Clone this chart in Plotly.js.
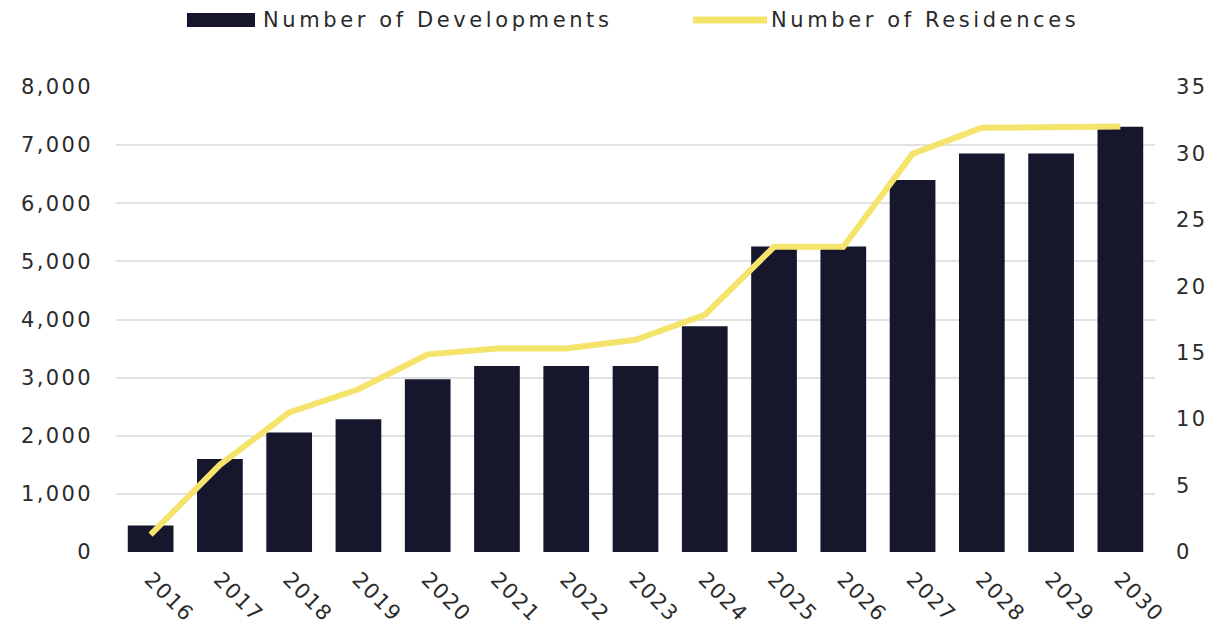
<!DOCTYPE html>
<html>
<head>
<meta charset="utf-8">
<script src="https://cdn.plot.ly/plotly-3.0.1.min.js"></script>
<style>
  html, body { margin: 0; padding: 0; background: #fff; }
  #chart { width: 1230px; height: 630px; }
  .ytick text, .y2tick text { letter-spacing: 2.4px; }
  .xtick text { letter-spacing: 1.5px; }
  .annotation-text { letter-spacing: 3.6px; }
</style>
</head>
<body>
<div id="chart"></div>
<script>
const years = ['2016','2017','2018','2019','2020','2021','2022','2023','2024','2025','2026','2027','2028','2029','2030'];
const developments = [2, 7, 9, 10, 13, 14, 14, 14, 17, 23, 23, 28, 30, 30, 32];
const residences = [300, 1500, 2400, 2800, 3400, 3500, 3500, 3650, 4080, 5250, 5250, 6850, 7300, 7300, 7320];
const devName = 'Number of Developments';
const resName = 'Number of Residences';

const FONT = 'DejaVu Sans, sans-serif';
const TXT = '#2b2b2b';
const BAR = '#16172d';
const LINE = '#f5e46b';

const traces = [
  { type: 'bar', name: devName, x: years, y: developments, yaxis: 'y',
    marker: { color: BAR }, showlegend: false, hoverinfo: 'x+y+name' },
  { type: 'scatter', mode: 'lines', name: resName, x: years, y: residences, yaxis: 'y2',
    line: { color: LINE, width: 6 }, showlegend: false }
];

const layout = {
  width: 1230, height: 630,
  margin: { l: 116, r: 75, t: 87, b: 78 },
  paper_bgcolor: '#fff', plot_bgcolor: 'rgba(0,0,0,0)',
  font: { family: FONT, color: TXT, size: 21 },
  bargap: 0.34,
  showlegend: false,
  xaxis: { type: 'category', tickangle: 45, showgrid: false, zeroline: false,
           showline: false, ticks: '', ticklabelstandoff: 10, tickfont: { size: 21, color: TXT } },
  yaxis: { side: 'right', range: [0, 35], dtick: 5, tick0: 0, showgrid: false,
           zeroline: false, showline: false, ticks: '', ticklabelstandoff: 20,
           tickfont: { size: 21, color: TXT } },
  yaxis2: { overlaying: 'y', side: 'left', range: [0, 8000], dtick: 1000, tick0: 0,
            tickformat: ',d', showgrid: true, gridcolor: '#e2e2e2', gridwidth: 2,
            zeroline: false, showline: false, ticks: '', ticklabelstandoff: 22,
            tickfont: { size: 21, color: TXT } },
  shapes: [
    { type: 'rect', xref: 'paper', yref: 'paper', x0: 0.0683, x1: 0.1338, y0: 1.129, y1: 1.159,
      fillcolor: BAR, line: { width: 0 } },
    { type: 'line', xref: 'paper', yref: 'paper', x0: 0.5553, x1: 0.6266, y0: 1.144, y1: 1.144,
      line: { color: LINE, width: 7 } }
  ],
  annotations: [
    { xref: 'paper', yref: 'paper', x: 0.1395, y: 1.144, xanchor: 'left', yanchor: 'middle',
      text: devName, showarrow: false, font: { family: FONT, size: 21, color: TXT } },
    { xref: 'paper', yref: 'paper', x: 0.6285, y: 1.144, xanchor: 'left', yanchor: 'middle',
      text: resName, showarrow: false, font: { family: FONT, size: 21, color: TXT } }
  ]
};

Plotly.newPlot('chart', traces, layout, { displayModeBar: false, staticPlot: true });
</script>
</body>
</html>
